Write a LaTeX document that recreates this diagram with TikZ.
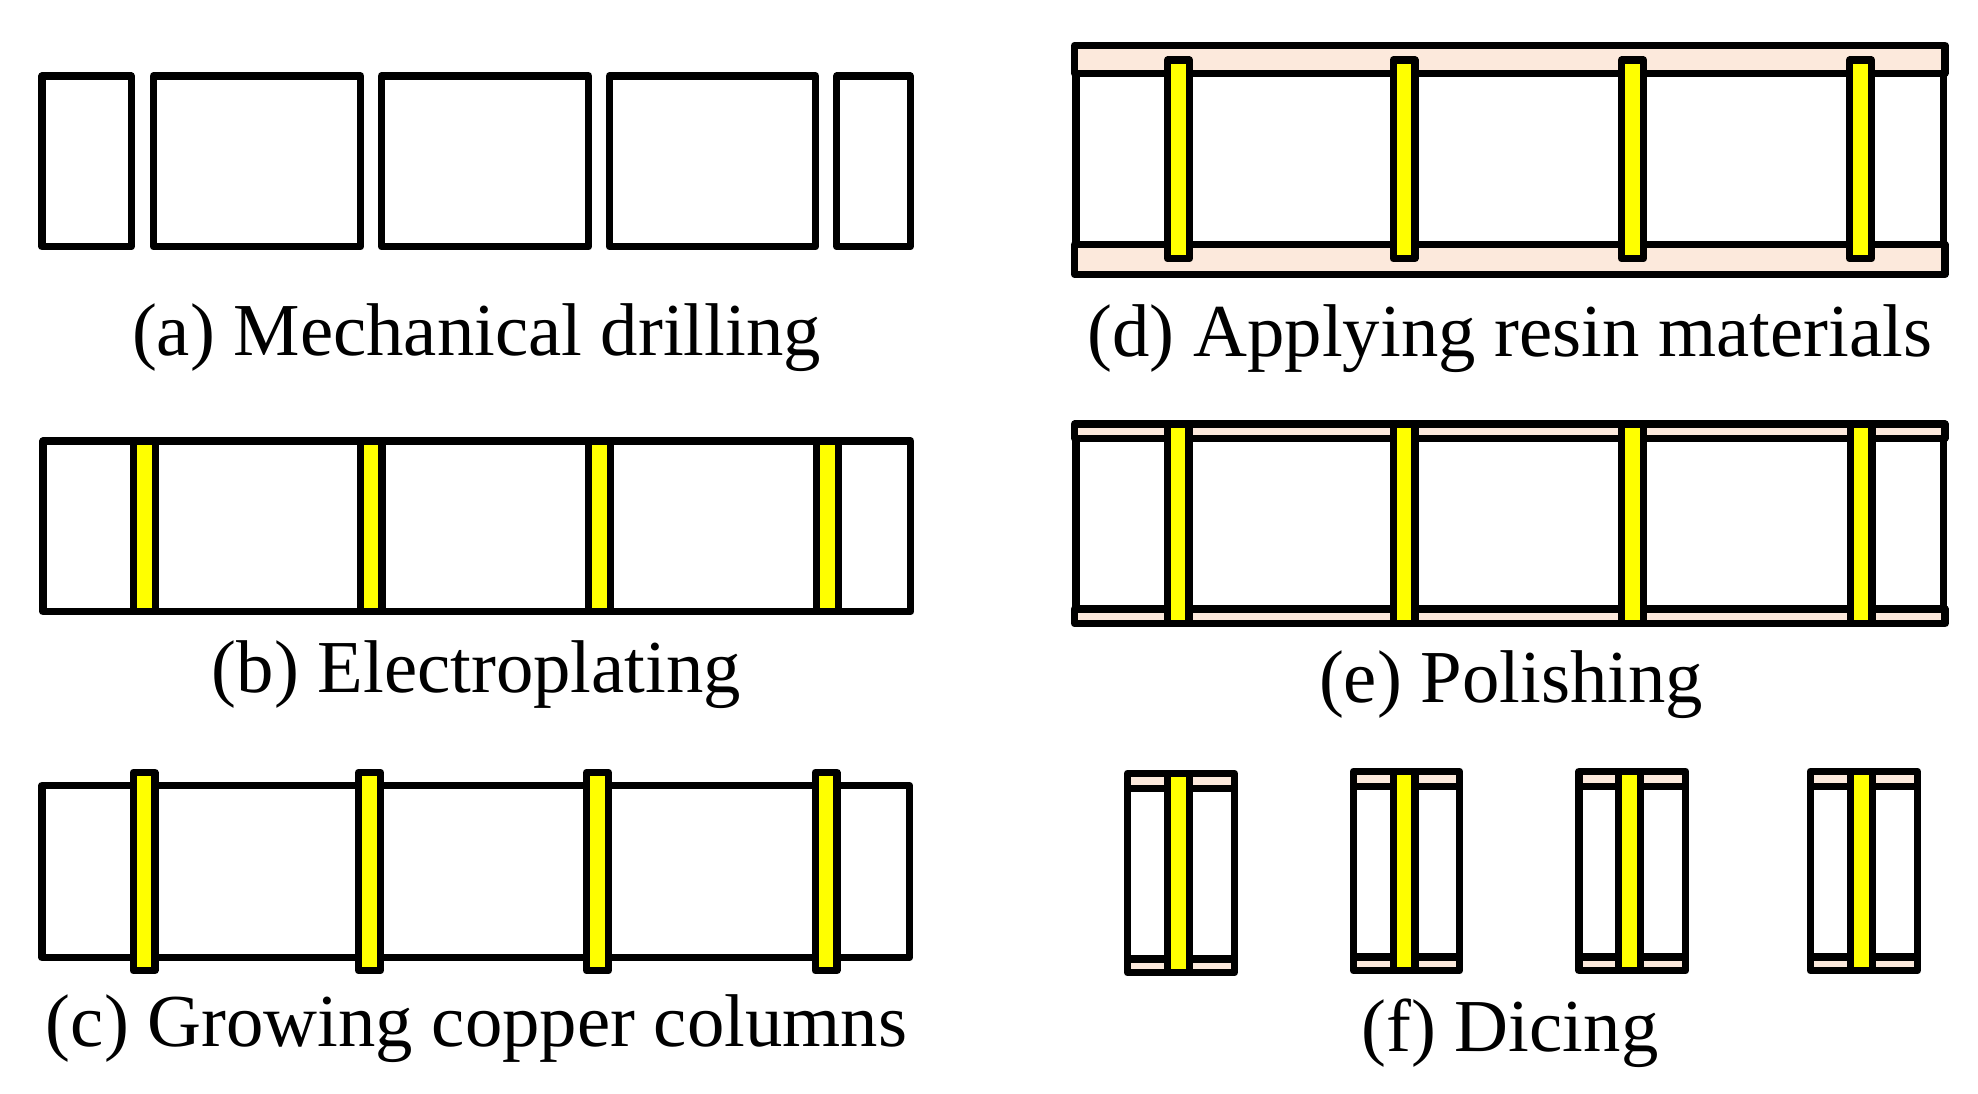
\documentclass[tikz,border=0pt]{standalone}
\usepackage{fontspec}
\setmainfont{Liberation Serif}
\definecolor{resincol}{HTML}{FCE9DC}
\definecolor{coppercol}{HTML}{FFFF00}
\tikzset{
  outline/.style={draw=black,line width=7.2bp,line join=round},
  board/.style={outline,fill=white},
  resin/.style={outline,fill=resincol},
  copper/.style={outline,fill=coppercol},
  caption/.style={inner sep=0pt,outer sep=0pt,anchor=base,font=\fontsize{75}{80}\selectfont}
}
\newcommand{\colbar}[3]{\draw[copper] (#1-10.9,#2) rectangle (#1+10.9,#3);}
\newcommand{\chipcell}[4]{% left, right, column centre, y offset
  \begin{scope}[yshift=#4]
  \draw[board] (#1,788.3) rectangle (#2,959);
  \draw[resin] (#1,773.3) rectangle (#2,788.3);
  \draw[resin] (#1,959) rectangle (#2,972.7);
  \colbar{#3}{773.3}{972.7}
  \end{scope}}
\begin{document}
\begin{tikzpicture}[x=1bp,y=-1bp]
\useasboundingbox (0,0) rectangle (1978,1093);
% (a)
\draw[board] (42,76) rectangle (131.2,246.7);
\draw[board] (153.4,76) rectangle (360.6,246.7);
\draw[board] (381.4,76) rectangle (588.6,246.7);
\draw[board] (609.4,76) rectangle (815.6,246.7);
\draw[board] (836.8,76) rectangle (910.2,246.7);
\node[caption] (capa) at (476.5,355) {(a) Mechanical drilling};
% (b)
\foreach \cx in {144.5,371,599.5,827.5} {\colbar{\cx}{441}{611.6}}
\draw[outline] (43,441) rectangle (910.7,611.6);
\node[caption] (capb) at (476.5,692.7) {(b) Electroplating};
% (c)
\draw[board] (42,785.4) rectangle (909.6,957.6);
\foreach \cx in {144,369.5,597.5,826} {\colbar{\cx}{772.4}{970.6}}
\node[caption] (capc) at (476.5,1046) {(c) Growing copper columns};
% (d)
\draw[board] (1076,73.3) rectangle (1943.6,244.3);
\draw[resin] (1074.6,45.3) rectangle (1945,73.3);
\draw[resin] (1074.6,244.3) rectangle (1945,274.3);
\foreach \cx in {1178.5,1404,1632.5,1860.5} {\colbar{\cx}{60}{258.6}}
\node[caption] (capd) at (1510,356) {(d) Applying resin materials};
% (e)
\draw[board] (1076,438.3) rectangle (1943.6,609);
\draw[resin] (1074.6,424) rectangle (1945,438.3);
\draw[resin] (1074.6,609) rectangle (1945,623.7);
\foreach \cx in {1178,1404,1632.5,1861} {\colbar{\cx}{424}{623.7}}
\node[caption] (cape) at (1511,702.5) {(e) Polishing};
% (f)
\chipcell{1127.4}{1234.3}{1178.4}{0bp}
\chipcell{1353.4}{1459.6}{1404}{2bp}
\chipcell{1579}{1685.6}{1629.5}{2bp}
\chipcell{1810.1}{1917.3}{1861.5}{2bp}
\node[caption] (capf) at (1510,1051.7) {(f) Dicing};
\end{tikzpicture}
\end{document}
